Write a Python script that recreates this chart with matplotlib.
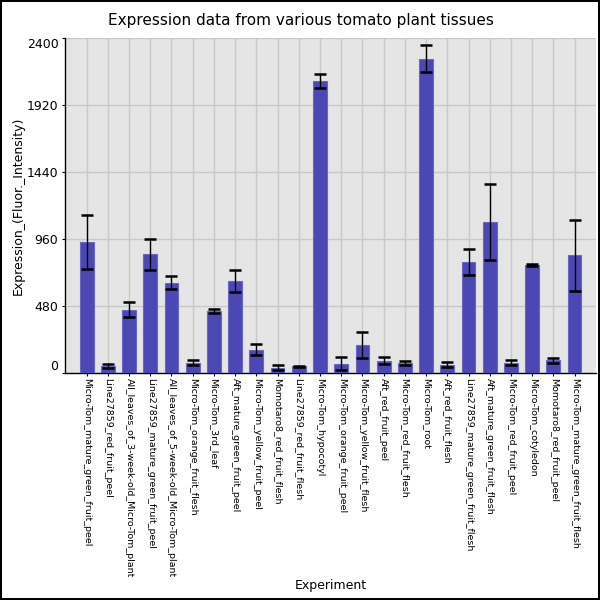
import matplotlib
matplotlib.use("Agg")
import matplotlib.pyplot as plt
import numpy as np

categories = [
    "Micro-Tom_mature_green_fruit_peel",
    "Line27859_red_fruit_peel",
    "All_leaves_of_3-week-old_Micro-Tom_plant",
    "Line27859_mature_green_fruit_peel",
    "All_leaves_of_5-week-old_Micro-Tom_plant",
    "Micro-Tom_orange_fruit_flesh",
    "Micro-Tom_3rd_leaf",
    "Aft_mature_green_fruit_peel",
    "Micro-Tom_yellow_fruit_peel",
    "Momotaro8_red_fruit_flesh",
    "Line27859_red_fruit_flesh",
    "Micro-Tom_hypocotyl",
    "Micro-Tom_orange_fruit_peel",
    "Micro-Tom_yellow_fruit_flesh",
    "Aft_red_fruit_peel",
    "Micro-Tom_red_fruit_flesh",
    "Micro-Tom_root",
    "Aft_red_fruit_flesh",
    "Line27859_mature_green_fruit_flesh",
    "Aft_mature_green_fruit_flesh",
    "Micro-Tom_red_fruit_peel",
    "Micro-Tom_cotyledon",
    "Momotaro8_red_fruit_peel",
    "Micro-Tom_mature_green_fruit_flesh",
]
values = [937, 50, 453, 850, 648, 74, 445, 662, 165, 38, 46, 2095,
          66, 202, 86, 72, 2255, 57, 797, 1080, 73, 775, 90, 845]
errors = [195, 14, 55, 112, 45, 18, 14, 78, 40, 17, 7, 51,
          45, 95, 25, 12, 95, 18, 92, 272, 19, 5, 17, 255]
yticks = [0, 480, 960, 1440, 1920, 2400]

fig = plt.figure(figsize=(6, 6), dpi=100)
fig.patch.set_facecolor("white")
fig.patch.set_edgecolor("black")
fig.patch.set_linewidth(1.5)

ax = fig.add_axes([0.109, 0.3785, 0.884, 0.5575])
ax.set_facecolor("#e5e5e5")
x = np.arange(len(categories))
ax.bar(x, values, width=0.65, color="#4b47b3", edgecolor="#6a66c6",
       linewidth=0.8, zorder=3)
ax.errorbar(x, values, yerr=errors, fmt="none", ecolor="black",
            elinewidth=1, capsize=4.5, capthick=1.8, zorder=4)

ax.set_xlim(-1, len(categories))
ax.set_ylim(0, 2400)
ax.set_xticks(x)
ax.set_xticklabels(categories, rotation=-90, fontsize=6.8, va="top", ha="center")
ax.set_yticks(yticks)
ax.set_yticklabels([str(t) for t in yticks], fontsize=9)
labs = ax.get_yticklabels()
labs[0].set_va("bottom")
labs[-1].set_va("top")
ax.tick_params(axis="x", length=2, pad=2)
ax.tick_params(axis="y", length=2, pad=3)
ax.grid(True, color="#c8c8c8", linewidth=1, zorder=0)
ax.set_axisbelow(True)
for s in ["top", "right"]:
    ax.spines[s].set_visible(False)
ax.spines["left"].set_linewidth(1)
ax.spines["bottom"].set_linewidth(1)

ax.set_ylabel("Expression_(Fluor._Intensity)", fontsize=9)
ax.yaxis.set_label_coords(-0.077, 0.5)
fig.text(0.551, 0.025, "Experiment", ha="center", va="center", fontsize=9)
fig.text(0.502, 0.966, "Expression data from various tomato plant tissues",
         ha="center", va="center", fontsize=11)

fig.savefig("out.png", dpi=100)
